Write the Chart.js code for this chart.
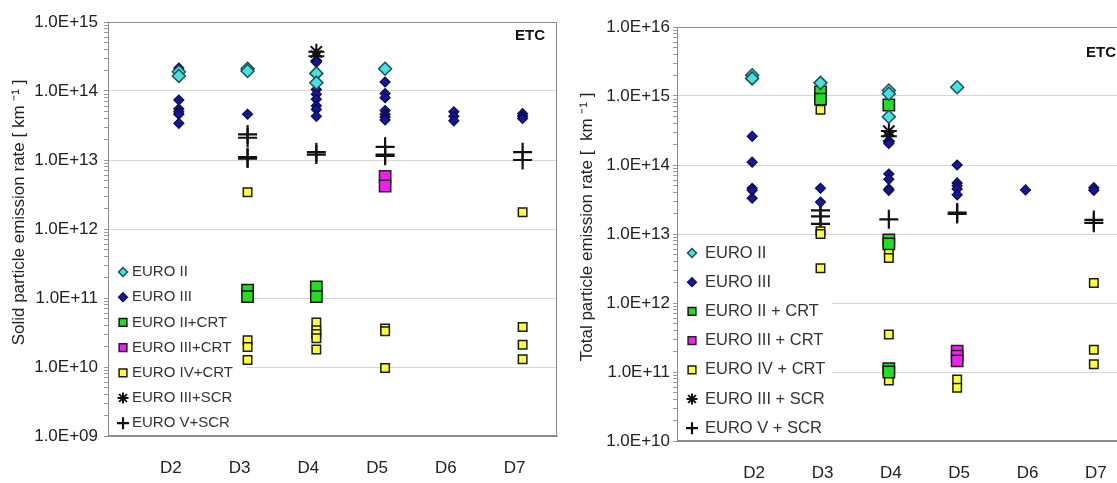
<!DOCTYPE html>
<html>
<head>
  <meta charset="utf-8" />
  <title>ETC particle emission rates</title>
  <script src="https://cdn.jsdelivr.net/npm/chart.js"></script>
  <style>
    html, body { margin: 0; padding: 0; background: #fff; overflow: hidden; width: 1117px; height: 483px; }
    .panel { position: absolute; top: 0; }
    #solidPanel { left: 0; }
    #totalPanel { left: 570px; }
  </style>
</head>
<body>
  <div class="panel" id="solidPanel"><canvas id="solidChart" width="570" height="483"></canvas></div>
  <div class="panel" id="totalPanel"><canvas id="totalChart" width="571" height="483"></canvas></div>

  <script>
    // categories on the x axis
    const categories = ['D2', 'D3', 'D4', 'D5', 'D6', 'D7'];

    const solidLabels = ['EURO II', 'EURO III', 'EURO II+CRT', 'EURO III+CRT', 'EURO IV+CRT', 'EURO III+SCR', 'EURO V+SCR'];
    const totalLabels = ['EURO II', 'EURO III', 'EURO II + CRT', 'EURO III + CRT', 'EURO IV + CRT', 'EURO III + SCR', 'EURO V + SCR'];

    // solid particle emission rate [km-1], one list of values per category D2..D7
    const solidEuro2 = [[1.9e14, 1.65e14], [2.1e14, 1.95e14], [1.8e14, 1.32e14], [2.1e14], [], []];
    const solidEuro3 = [
      [2.15e14, 2.0e14, 7.4e13, 5.5e13, 5.0e13, 4.6e13, 3.4e13],
      [4.6e13],
      [2.6e14, 1.05e14, 9.0e13, 7.6e13, 6.1e13, 5.4e13, 4.3e13],
      [1.35e14, 9.2e13, 8.0e13, 5.2e13, 4.6e13, 4.2e13, 3.8e13],
      [5.0e13, 4.3e13, 3.7e13],
      [4.7e13, 4.3e13, 4.0e13]
    ];
    const solidEuro2Crt = [[], [1.3e11, 1.05e11], [1.45e11, 1.05e11], [], [], []];
    const solidEuro3Crt = [[], [], [], [5.8e12, 4.2e12], [], []];
    const solidEuro4Crt = [
      [],
      [3.4e12, 2.45e10, 1.95e10, 1.26e10],
      [4.4e10, 3.4e10, 3.0e10, 2.6e10, 1.8e10],
      [3.6e10, 3.3e10, 9.7e9],
      [],
      [1.75e12, 3.8e10, 2.1e10, 1.3e10]
    ];
    const solidEuro3Scr = [[], [], [3.7e14, 3.2e14], [], [], []];
    const solidEuro5Scr = [[], [2.35e13, 2.1e13, 1.1e13, 1.05e13], [1.3e13, 1.2e13], [1.55e13, 1.2e13, 1.15e13], [], [1.3e13, 1.0e13]];

    // total particle emission rate [km-1]
    const totalEuro2 = [[2.0e15, 1.8e15], [1.55e15], [1.2e15, 1.08e15, 5.0e14], [1.34e15], [], []];
    const totalEuro3 = [
      [2.6e14, 1.1e14, 4.6e13, 4.3e13, 3.3e13],
      [4.6e13, 2.9e13],
      [2.2e14, 2.05e14, 7.4e13, 6.2e13, 4.5e13, 4.3e13],
      [1.0e14, 5.5e13, 5.0e13, 4.5e13, 3.7e13],
      [4.35e13],
      [4.7e13, 4.3e13]
    ];
    const totalEuro2Crt = [[], [1.15e15, 9.0e14], [7.4e14, 8.2e12, 7.2e12, 1.12e11, 1.0e11], [], [], []];
    const totalEuro3Crt = [[], [], [], [2.0e11, 1.7e11, 1.45e11], [], []];
    const totalEuro4Crt = [[], [6.3e14, 1.1e13, 1.0e13, 3.2e12], [5.5e12, 4.5e12, 3.5e11, 7.5e10], [7.8e10, 5.9e10], [], [1.95e12, 2.1e11, 1.3e11]];
    const totalEuro3Scr = [[], [], [3.1e14, 2.6e14], [], [], []];
    const totalEuro5Scr = [[], [2.2e13, 1.8e13, 1.4e13], [1.63e13], [2.05e13, 1.95e13], [], [1.6e13, 1.45e13]];

    const FONT = '"Liberation Sans", Arial, sans-serif';

    // marker look for each series, same order as the labels
    const markers = [
      { style: 'rectRot', fill: '#45e2e2', line: '#1f4f55', r: 6.5, lr: 4.5, w: 1.5 },
      { style: 'rectRot', fill: '#16169c', line: '#0b0b4a', r: 5, lr: 4.5, w: 1.2 },
      { style: 'rect', fill: '#22dd22', line: '#151515', r: 8, lr: 5.5, w: 1.5 },
      { style: 'rect', fill: '#f21ef2', line: '#222', r: 8, lr: 5.5, w: 1.5 },
      { style: 'rect', fill: '#ffff33', line: '#1a1a1a', r: 6, lr: 5.5, w: 1.5 },
      { style: 'star', fill: '#111', line: '#111', r: 8, lr: 5.5, w: 2 },
      { style: 'cross', fill: '#111', line: '#111', r: 9.5, lr: 6, w: 2.2 }
    ];

    function toPoints(perCategory) {
      const pts = [];
      perCategory.forEach((vals, i) => vals.forEach(v => pts.push({ x: i + 2, y: v })));
      return pts;
    }

    function isDecade(v) {
      const l = Math.log10(v);
      return Math.abs(l - Math.round(l)) < 1e-9;
    }

    function sciLabel(v) {
      if (!isDecade(v)) return '';
      const e = Math.round(Math.log10(v));
      return '1.0E+' + (e < 10 ? '0' + e : e);
    }

    // legend box, ETC tag and plot frame drawn on top of the grid
    function decorPlugin(cfg) {
      return {
        id: 'decor',
        beforeDatasetsDraw(chart) {
          const ctx = chart.ctx;
          const a = chart.chartArea;
          const lg = cfg.legend;
          ctx.save();
          ctx.fillStyle = '#fff';
          ctx.fillRect(a.left + 1, lg.boxTop, lg.boxRight - a.left - 1, a.bottom - lg.boxTop - 1);
          ctx.font = lg.font;
          ctx.textBaseline = 'middle';
          ctx.textAlign = 'left';
          chart.data.datasets.forEach((ds, i) => {
            const y = lg.top + i * lg.step;
            ctx.fillStyle = ds.pointBackgroundColor;
            ctx.strokeStyle = ds.pointBorderColor;
            ctx.lineWidth = ds.pointBorderWidth;
            Chart.helpers.drawPoint(ctx, {
              pointStyle: ds.pointStyle, radius: ds.legendRadius, rotation: 0, borderWidth: ds.pointBorderWidth
            }, lg.markerX, y);
            ctx.fillStyle = '#333';
            ctx.fillText(ds.label, lg.textX, y);
          });
          ctx.font = 'bold 15px ' + FONT;
          ctx.fillStyle = '#111';
          ctx.fillText('ETC', cfg.etc.x, cfg.etc.y);
          ctx.strokeStyle = '#8a8a8a';
          ctx.lineWidth = 1;
          ctx.strokeRect(a.left + 0.5, a.top + 0.5, a.right - a.left - 1, a.bottom - a.top - 1);
          ctx.restore();
        }
      };
    }

    function makeChart(id, cfg) {
      const datasets = cfg.series.map((s, i) => ({
        label: cfg.labels[i],
        data: toPoints(s),
        showLine: false,
        pointStyle: markers[i].style,
        pointRadius: markers[i].r,
        pointHoverRadius: markers[i].r,
        pointBackgroundColor: markers[i].fill,
        pointBorderColor: markers[i].line,
        pointBorderWidth: markers[i].w,
        legendRadius: markers[i].lr
      }));

      return new Chart(document.getElementById(id), {
        type: 'scatter',
        data: { datasets },
        options: {
          responsive: false,
          animation: false,
          devicePixelRatio: 1,
          layout: { padding: { left: 0, top: cfg.top, right: 13, bottom: 0 } },
          plugins: { legend: { display: false }, tooltip: { enabled: false } },
          scales: {
            x: {
              type: 'linear',
              min: cfg.xMin,
              max: 7.5,
              afterBuildTicks(scale) { scale.ticks = categories.map((c, i) => ({ value: i + 2 })); },
              afterFit(scale) { scale.height = cfg.xHeight; scale.paddingLeft = 0; scale.paddingRight = 0; },
              grid: { display: false, drawTicks: false },
              border: { color: '#8a8a8a' },
              ticks: {
                autoSkip: false, maxRotation: 0, padding: 22, labelOffset: cfg.labelOffset,
                color: '#222', font: { family: FONT, size: 17 },
                callback: v => categories[v - 2]
              }
            },
            y: {
              type: 'logarithmic',
              min: cfg.yMin,
              max: cfg.yMax,
              afterBuildTicks(scale) {
                const ticks = [];
                for (let e = Math.log10(cfg.yMin); e < Math.log10(cfg.yMax); e++) {
                  for (let m = 1; m < 10; m++) ticks.push({ value: m * Math.pow(10, e) });
                }
                ticks.push({ value: cfg.yMax });
                scale.ticks = ticks;
              },
              afterFit(scale) { scale.width = cfg.yWidth; scale.paddingTop = 0; scale.paddingBottom = 0; },
              grid: {
                color: c => (c.tick && isDecade(c.tick.value)) ? '#d6d6d6' : 'rgba(0,0,0,0)',
                tickColor: '#9a9a9a',
                tickLength: 4
              },
              border: { color: '#8a8a8a' },
              ticks: {
                autoSkip: false, padding: cfg.tickPad,
                color: '#222', font: { family: FONT, size: 17 },
                callback: sciLabel
              },
              title: {
                display: true, text: cfg.title, color: '#222',
                font: { family: FONT, size: 17 },
                padding: { top: cfg.titlePad, bottom: 0 }
              }
            }
          }
        },
        plugins: [decorPlugin(cfg)]
      });
    }

    makeChart('solidChart', {
      series: [solidEuro2, solidEuro3, solidEuro2Crt, solidEuro3Crt, solidEuro4Crt, solidEuro3Scr, solidEuro5Scr],
      labels: solidLabels,
      title: '       Solid particle emission rate [ km \u207B\u00B9 ]',
      yMin: 1e9, yMax: 1e15, xMin: 0.97,
      top: 22, xHeight: 47, yWidth: 108, tickPad: 6, titlePad: 9, labelOffset: -8,
      legend: { markerX: 123, textX: 132, top: 272, step: 25.2, boxTop: 258, boxRight: 246, font: '15px ' + FONT },
      etc: { x: 515, y: 36 }
    });

    makeChart('totalChart', {
      series: [totalEuro2, totalEuro3, totalEuro2Crt, totalEuro3Crt, totalEuro4Crt, totalEuro3Scr, totalEuro5Scr],
      labels: totalLabels,
      title: '   Total particle emission rate [  km \u207B\u00B9 ]',
      yMin: 1e10, yMax: 1e16, xMin: 0.9,
      top: 27, xHeight: 42, yWidth: 107, tickPad: 3, titlePad: 7, labelOffset: 2,
      legend: { markerX: 122, textX: 135, top: 253, step: 29.2, boxTop: 241, boxRight: 262, font: '16.5px ' + FONT },
      etc: { x: 516, y: 53 }
    });
  </script>
</body>
</html>
